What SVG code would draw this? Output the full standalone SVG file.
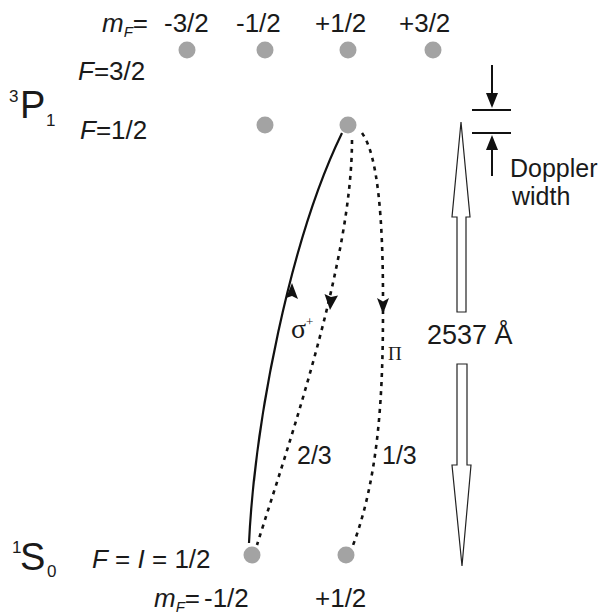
<svg xmlns="http://www.w3.org/2000/svg" width="606" height="614" viewBox="0 0 606 614">
<style>
.t{font-family:"Liberation Sans",Arial,sans-serif;font-size:26px;fill:#1a1a1a}
.i{font-style:italic}
.s{font-family:"Liberation Serif","Times New Roman",serif;fill:#1a1a1a}
.dot{fill:#a3a3a3}
.sol{fill:none;stroke:#111;stroke-width:2.2}
.dsh{fill:none;stroke:#111;stroke-width:2.6;stroke-dasharray:4 5}
.hol{fill:#fff;stroke:#222;stroke-width:1.2}
.ah{fill:#111}
</style>
<rect width="606" height="614" fill="#fff"/>
<g id="labels-top">
<text class="t" y="32"><tspan x="102" class="i">m</tspan><tspan class="i" style="font-size:15px" dy="5">F</tspan><tspan dy="-5">=</tspan></text>
<text class="t" x="164" y="32">-3/2</text>
<text class="t" x="236" y="32">-1/2</text>
<text class="t" x="315" y="32">+1/2</text>
<text class="t" x="399" y="32">+3/2</text>
</g>
<g id="level-3P1">
<text class="t" x="9" y="102" style="font-size:17px">3</text>
<text class="t" x="20" y="118" style="font-size:38px">P</text>
<text class="t" x="46" y="126" style="font-size:17px">1</text>
</g>
<g id="F32">
<text class="t" x="78" y="80"><tspan class="i">F</tspan>=3/2</text>
<circle class="dot" cx="187" cy="50" r="8.5"/>
<circle class="dot" cx="265" cy="50" r="8.5"/>
<circle class="dot" cx="348" cy="50" r="8.5"/>
<circle class="dot" cx="433" cy="50" r="8.5"/>
</g>
<g id="F12">
<text class="t" x="80" y="139"><tspan class="i">F</tspan>=1/2</text>
<circle class="dot" cx="265" cy="125" r="8.5"/>
<circle class="dot" cx="348" cy="125" r="8.5"/>
</g>
<g id="level-1S0">
<text class="t" x="12" y="553" style="font-size:17px">1</text>
<text class="t" x="20" y="570" style="font-size:38px">S</text>
<text class="t" x="47" y="577" style="font-size:17px">0</text>
<text class="t" x="92" y="568"><tspan class="i">F</tspan> = <tspan class="i">I</tspan> = 1/2</text>
<circle class="dot" cx="252" cy="555" r="8.5"/>
<circle class="dot" cx="346" cy="555" r="8.5"/>
</g>
<g id="labels-bottom">
<text class="t" y="607"><tspan x="154" class="i">m</tspan><tspan class="i" style="font-size:15px" dy="5">F</tspan><tspan dy="-5">=</tspan></text>
<text class="t" x="204" y="607">-1/2</text>
<text class="t" x="315" y="607">+1/2</text>
</g>
<g id="connectors">
<path class="sol" d="M249,543 C255,420 290,240 342,133"/>
<path class="ah" d="M292,283 L298,299 L292,296 L286,298 Z"/>
<path class="dsh" d="M352,140 C352,260 290,440 257,545"/>
<path class="ah" d="M330,310 L324.5,294 L331,297 L338,295.5 Z"/>
<path class="dsh" d="M362,133 C378,155 383,220 383,300"/>
<path class="dsh" d="M383,310 C383,400 378,480 352,548"/>
<path class="ah" d="M383,314 L377,298 L383,301.5 L389,298 Z"/>
</g>
<g id="conn-labels">
<text class="s" x="291" y="338" style="font-size:28px">σ</text>
<text class="s" x="306" y="326" style="font-size:13px">+</text>
<text class="s" x="388" y="360" style="font-size:19px">Π</text>
<text class="t" x="297" y="464" style="font-size:25px">2/3</text>
<text class="t" x="382" y="464" style="font-size:25px">1/3</text>
</g>
<g id="wavelength">
<path class="hol" d="M461,122 L470,217 L466,217 L466,312 L457,312 L457,217 L452,217 Z"/>
<path class="hol" d="M457,364 L467,364 L467,465 L471,465 L462,566 L452,465 L457,465 Z"/>
<text class="t" x="427" y="344" style="font-size:27px">2537 Å</text>
</g>
<g id="doppler">
<line x1="472" y1="110" x2="511" y2="110" stroke="#111" stroke-width="1.8"/>
<line x1="472" y1="133" x2="511" y2="133" stroke="#111" stroke-width="1.8"/>
<line x1="492" y1="65" x2="492" y2="96" stroke="#111" stroke-width="2"/>
<path class="ah" d="M492,108 L486,93 L498,93 Z"/>
<line x1="492" y1="146" x2="492" y2="176" stroke="#111" stroke-width="2"/>
<path class="ah" d="M492,135 L486,150 L498,150 Z"/>
<text class="t" x="510" y="177" style="font-size:25px">Doppler</text>
<text class="t" x="512" y="205" style="font-size:25px">width</text>
</g>
</svg>
